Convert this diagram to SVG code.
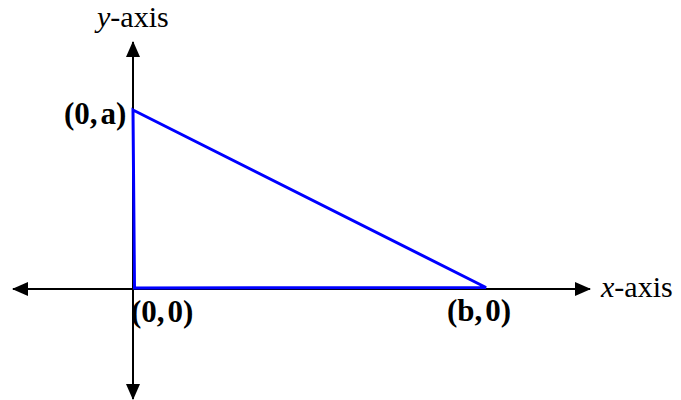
<svg xmlns="http://www.w3.org/2000/svg" width="681" height="400" viewBox="0 0 681 400">
<style>
.axis{stroke:#000;stroke-width:2;fill:none}
.tri{stroke:#0000ff;stroke-width:3;fill:none;stroke-linejoin:miter}
.lbl{font-family:"Liberation Serif","Times New Roman",serif;font-size:31px;font-weight:bold;fill:#000}
.ax{font-family:"Liberation Serif","Times New Roman",serif;font-size:30px;fill:#000}
</style>
<defs>
<marker id="ah" markerWidth="16" markerHeight="14" refX="15" refY="7" orient="auto" markerUnits="userSpaceOnUse">
<path d="M0,0 L16,7 L0,14 Z" fill="#000"/>
</marker>
</defs>
<rect width="681" height="400" fill="#fff"/>
<g id="connectors">
<line class="axis" x1="133" y1="289" x2="133" y2="42" marker-end="url(#ah)"/>
<line class="axis" x1="133" y1="289" x2="133" y2="399" marker-end="url(#ah)"/>
<line class="axis" x1="133" y1="289" x2="13" y2="289" marker-end="url(#ah)"/>
<line class="axis" x1="133" y1="289" x2="590" y2="289" marker-end="url(#ah)"/>
</g>
<g id="triangle">
<polygon class="tri" points="133,110 486,287.5 134.5,288"/>
</g>
<g id="label-y-axis"><text class="ax" x="97" y="27"><tspan font-style="italic">y</tspan>-axis</text></g>
<g id="label-x-axis"><text class="ax" x="601" y="297"><tspan font-style="italic">x</tspan>-axis</text></g>
<g id="label-0a"><text class="lbl" x="64" y="124">(0,<tspan dx="3">a)</tspan></text></g>
<g id="label-00"><text class="lbl" x="131" y="322">(0,<tspan dx="3">0)</tspan></text></g>
<g id="label-b0"><text class="lbl" x="447" y="321">(b,<tspan dx="3">0)</tspan></text></g>
</svg>
